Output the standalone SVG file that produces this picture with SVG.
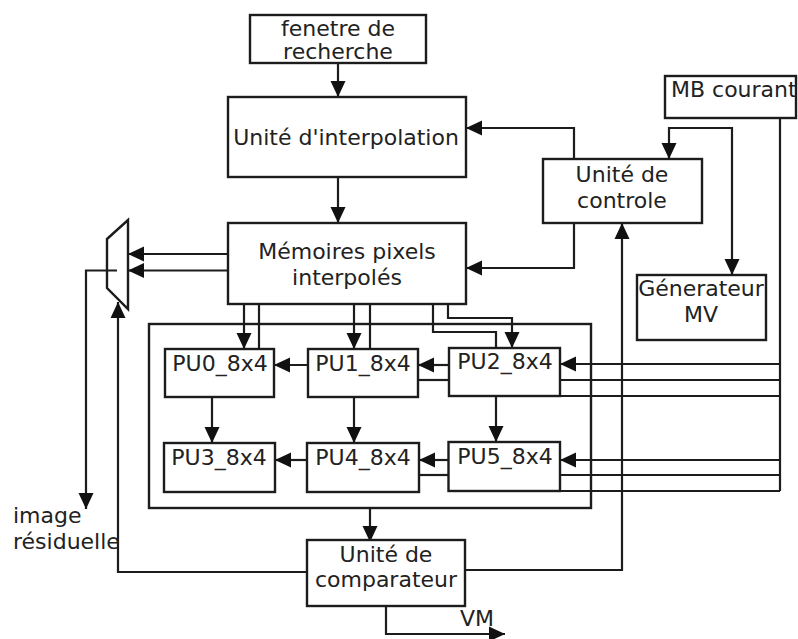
<svg xmlns="http://www.w3.org/2000/svg" width="798" height="639" viewBox="0 0 798 639">
<style>
rect,polygon.m{fill:#fff;stroke:#1c1c1c;stroke-width:2.4}
#outer rect{fill:none}
#connectors path{fill:none;stroke:#1c1c1c;stroke-width:2.2}
#connectors path.a{marker-end:url(#arr)}
text{font-family:"DejaVu Sans",sans-serif;font-size:22px;fill:#222;text-anchor:middle}
text.l{text-anchor:start}
</style>
<defs><marker id="arr" markerUnits="userSpaceOnUse" markerWidth="16" markerHeight="16" viewBox="0 0 16 16" refX="16" refY="8" orient="auto"><path d="M0 0.500L16 8L0 15.500Z" fill="#111"/></marker></defs>
<rect width="798" height="639" style="fill:#fff;stroke:none"/>
<g id="outer"><rect x="149" y="324" width="442" height="184"/></g>
<g id="connectors">
<path class="a" d="M338 63V97"/>
<path class="a" d="M338 177V223"/>
<path class="a" d="M574 159V128H466"/>
<path class="a" d="M574 223V268H466"/>
<path class="a" d="M228 254H128"/>
<path class="a" d="M228 270.500H128"/>
<path class="a" d="M117 270.500H86V509"/>
<path class="a" d="M307 572H118V302"/>
<path class="a" d="M465 570H622V223"/>
<path class="a" d="M386 606V634H505"/>
<path class="a" d="M370 508V542"/>
<path class="a" d="M732 128H669V159"/>
<path class="a" d="M669 128H732V275"/>
<path d="M780 118V491"/>
<path class="a" d="M244 304V349"/>
<path d="M259 304V349"/>
<path class="a" d="M354 304V349"/>
<path d="M370 304V349"/>
<path d="M433 304V332H496V348"/>
<path class="a" d="M448 304V318H512V348"/>
<path class="a" d="M308 365H274"/>
<path class="a" d="M449 365H418"/>
<path d="M449 380H418"/>
<path class="a" d="M780 364H560"/>
<path d="M560 380H780"/>
<path d="M560 396H780"/>
<path class="a" d="M212 397V443"/>
<path class="a" d="M354 397V443"/>
<path class="a" d="M496 396V442"/>
<path class="a" d="M307 460H275"/>
<path class="a" d="M449 460H419"/>
<path d="M449 475H419"/>
<path class="a" d="M780 460H560"/>
<path d="M560 475H780"/>
<path d="M560 491H780"/>
</g>
<g id="mux"><polygon class="m" style="fill:none" points="107,239 128,220 128,309 107,288"/></g>
<g id="fenetre"><rect x="250" y="15" width="176" height="48"/><text x="338" y="36">fenetre de</text><text x="338" y="59">recherche</text></g>
<g id="interp"><rect x="228" y="97" width="238" height="80"/><text x="346" y="145">Unité d'interpolation</text></g>
<g id="mem"><rect x="228" y="223" width="238" height="81"/><text x="347" y="259">Mémoires pixels</text><text x="347" y="285">interpolés</text></g>
<g id="mb"><rect x="665" y="76" width="131" height="42"/><text class="l" x="671" y="97">MB courant</text></g>
<g id="ctrl"><rect x="543" y="159" width="159" height="64"/><text x="622" y="182">Unité de</text><text x="622" y="208">controle</text></g>
<g id="gen"><rect x="637" y="275" width="129" height="65"/><text x="701" y="296">Génerateur</text><text x="701" y="322">MV</text></g>
<g id="pu0"><rect x="165" y="349" width="109" height="48"/><text x="220" y="371">PU0_8x4</text></g>
<g id="pu1"><rect x="308" y="349" width="110" height="48"/><text x="363" y="371">PU1_8x4</text></g>
<g id="pu2"><rect x="449" y="348" width="111" height="48"/><text x="505" y="369">PU2_8x4</text></g>
<g id="pu3"><rect x="164" y="443" width="111" height="49"/><text x="219" y="465">PU3_8x4</text></g>
<g id="pu4"><rect x="307" y="443" width="112" height="49"/><text x="363" y="465">PU4_8x4</text></g>
<g id="pu5"><rect x="448.500" y="442" width="111.500" height="49"/><text x="505" y="464">PU5_8x4</text></g>
<g id="comp"><rect x="307" y="540" width="158" height="66"/><text x="386" y="562">Unité de</text><text x="386" y="587">comparateur</text></g>
<text class="l" x="13" y="523">image</text>
<text class="l" x="13" y="549">résiduelle</text>
<text class="l" x="460" y="626">VM</text>
</svg>
